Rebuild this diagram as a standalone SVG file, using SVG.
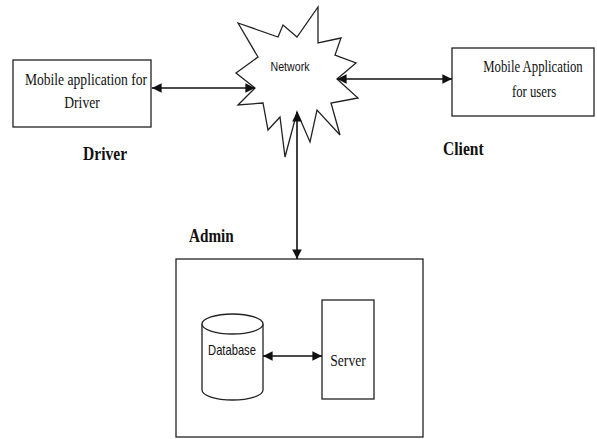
<svg xmlns="http://www.w3.org/2000/svg" width="597" height="439" viewBox="0 0 597 439">
<defs>
<style>
.box{fill:#fff;stroke:#222;stroke-width:1.3}
.ser{font-family:"Liberation Serif","Times New Roman",serif;fill:#111;font-size:17px;text-anchor:middle}
.san{font-family:"Liberation Sans Narrow","Liberation Sans",Arial,sans-serif;fill:#111;text-anchor:middle}
.lbl{font-family:"Liberation Serif","Times New Roman",serif;font-weight:bold;fill:#111;font-size:19px}
.conn{stroke:#111;stroke-width:1.6;fill:none;marker-start:url(#ah);marker-end:url(#ah)}
</style>
<marker id="ah" viewBox="0 0 10 10" refX="10" refY="5" markerWidth="6" markerHeight="6" orient="auto-start-reverse" markerUnits="strokeWidth">
<path d="M0,0 L10,5 L0,10 z" fill="#111"/>
</marker>
</defs>
<rect width="597" height="439" fill="#fff"/>
<g id="network">
<polygon class="box" points="238,23 278,37 283,25 297,37 318,7 318,43 341,38 335,55 356,63 337,79 358,98 331,103 340,135 317,110 310,142 297,112 285,157 280,117 268,130 263,103 238,105 255,88 236,73 258,57"/>
<text class="san" transform="translate(290,71) scale(0.82,1)" font-size="13">Network</text>
</g>
<g id="driver-app">
<rect class="box" x="13" y="60" width="138" height="67"/>
<text class="ser" transform="translate(86,85) scale(0.8,1)">Mobile application for</text>
<text class="ser" transform="translate(82,108) scale(0.8,1)">Driver</text>
</g>
<g id="driver-label">
<text class="lbl" transform="translate(83,160) scale(0.82,1)">Driver</text>
</g>
<g id="client-app">
<rect class="box" x="452" y="48" width="142" height="68"/>
<text class="ser" transform="translate(533,72) scale(0.75,1)">Mobile Application</text>
<text class="ser" transform="translate(534,97) scale(0.75,1)">for users</text>
</g>
<g id="client-label">
<text class="lbl" transform="translate(443,155) scale(0.82,1)">Client</text>
</g>
<g id="admin-label">
<text class="lbl" transform="translate(189,242) scale(0.8,1)">Admin</text>
</g>
<g id="admin">
<rect class="box" x="176" y="259" width="247" height="178"/>
</g>
<g id="database">
<path class="box" d="M202,324 L202,390 A30.5,10 0 0 0 263,390 L263,324"/>
<ellipse class="box" cx="232.5" cy="324" rx="30.5" ry="10"/>
<text class="san" transform="translate(232,355) scale(0.8,1)" font-size="14">Database</text>
</g>
<g id="server">
<rect class="box" x="322" y="300" width="52" height="99"/>
<text class="ser" transform="translate(348,366) scale(0.8,1)" font-size="16">Server</text>
</g>
<g id="connectors">
<line class="conn" x1="152" y1="88" x2="255" y2="88"/>
<line class="conn" x1="337" y1="79" x2="452" y2="79"/>
<line class="conn" x1="297" y1="112" x2="297" y2="259"/>
<line class="conn" x1="263" y1="356" x2="322" y2="356"/>
</g>
</svg>
